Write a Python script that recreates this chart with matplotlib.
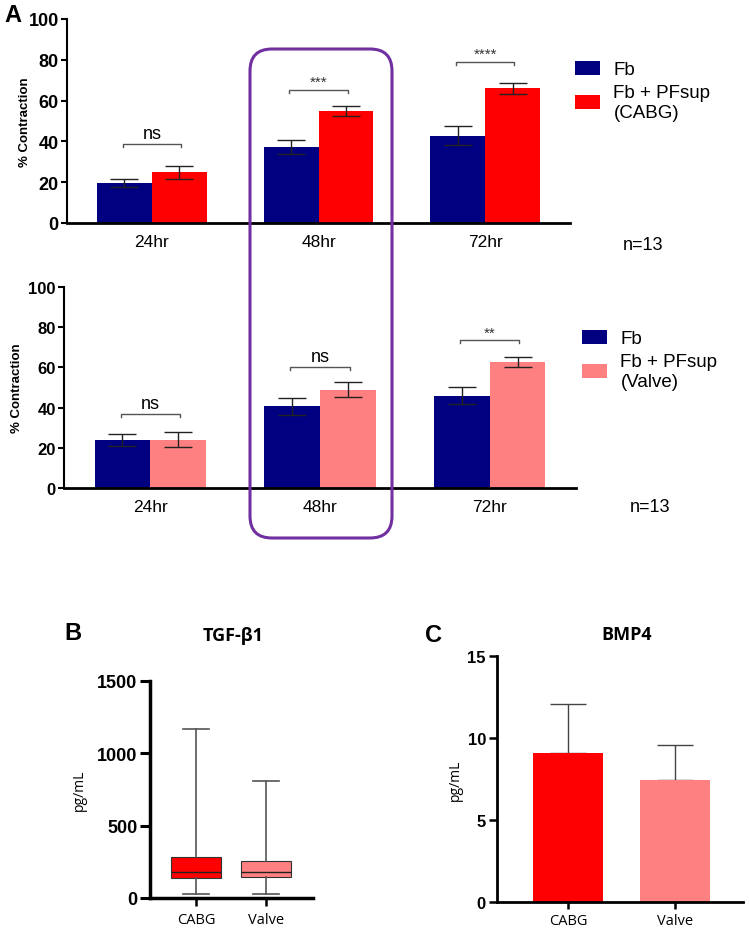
import numpy as np
import matplotlib
matplotlib.use('Agg')
import matplotlib.pyplot as plt
from matplotlib.patches import FancyBboxPatch
from matplotlib.transforms import IdentityTransform

plt.rcParams['font.family'] = ['Liberation Sans', 'DejaVu Sans']

# panel A data
timepoints = ['24hr', '48hr', '72hr']
fb_cabg = [19.6, 37.1, 42.8]
fb_cabg_err = [2.0, 3.4, 4.6]
cabg = [24.8, 54.8, 66.0]
cabg_err = [3.3, 2.5, 2.7]
sig_cabg = ['ns', '***', '****']
sig_cabg_y = [38.7, 65.4, 79.1]

fb_valve = [23.7, 40.7, 46.0]
fb_valve_err = [3.0, 4.3, 4.2]
valve = [24.0, 49.0, 62.7]
valve_err = [3.7, 3.8, 2.3]
sig_valve = ['ns', 'ns', '**']
sig_valve_y = [36.8, 60.2, 73.5]

# panel B data (box plot)
groups = ['CABG', 'Valve']
tgf_low = [30, 30]
tgf_q1 = [135, 142]
tgf_med = [180, 180]
tgf_q3 = [281, 253]
tgf_high = [1165, 809]

# panel C data
bmp4_mean = [9.09, 7.42]
bmp4_sd = [2.96, 2.18]

NAVY = '#000080'
RED = '#ff0000'
PINK = '#ff8080'
PURPLE = '#7030a0'
SANS2 = ['Open Sans', 'DejaVu Sans']

W, H = 750, 929
fig = plt.figure(figsize=(W / 100, H / 100), dpi=100)


def px_axes(l, t, r, b):
    return fig.add_axes([l / W, 1 - b / H, (r - l) / W, (b - t) / H])


def panel_a(ax, fb, fb_err, other, other_err, col, sig, sig_y, label2, ytick_fs, ylab_x):
    x = np.arange(len(timepoints))
    w = 0.33
    ax.bar(x - w / 2, fb, w, color=NAVY, label='Fb', zorder=2)
    ax.bar(x + w / 2, other, w, color=col, label=label2, zorder=2)
    ax.errorbar(x - w / 2, fb, yerr=fb_err, fmt='none', ecolor='#222222',
                elinewidth=1, capsize=10, capthick=1, zorder=3)
    ax.errorbar(x + w / 2, other, yerr=other_err, fmt='none', ecolor='#222222',
                elinewidth=1, capsize=10, capthick=1, zorder=3)
    for xi, s, yy in zip(x, sig, sig_y):
        ax.plot([xi - 0.175, xi - 0.175, xi + 0.175, xi + 0.175],
                [yy - 1.6, yy, yy, yy - 1.6], color='#555555', lw=1)
        if s == 'ns':
            ax.text(xi, yy + 1.0, s, ha='center', va='bottom', fontsize=13)
        else:
            ax.text(xi, yy + 0.2, s, ha='center', va='bottom', fontsize=11,
                    color='#333333')
    ax.set_ylim(0, 100)
    ax.set_xlim(-0.51, 2.51)
    ax.set_yticks(range(0, 101, 20))
    ax.set_xticks(x)
    ax.set_xticklabels(timepoints, fontsize=12.5)
    ax.tick_params(axis='x', length=0, pad=8)
    ax.tick_params(axis='y', length=4, width=1.5, labelsize=ytick_fs, pad=2)
    for t in ax.get_yticklabels():
        t.set_fontweight('bold')
    ax.set_ylabel('% Contraction', fontsize=9.5, fontweight='bold')
    ax.yaxis.set_label_coords(ylab_x, 0.5)
    for s in ['top', 'right']:
        ax.spines[s].set_visible(False)
    ax.spines['left'].set_linewidth(1.5)
    ax.spines['bottom'].set_linewidth(2)
    return ax


legend_kw = dict(bbox_transform=fig.transFigure, frameon=False, fontsize=13.5,
                 handlelength=1.35, handleheight=0.75, labelspacing=0.3,
                 handletextpad=0.7, borderaxespad=0, borderpad=0)

ax1 = px_axes(67, 20, 570, 224)
panel_a(ax1, fb_cabg, fb_cabg_err, cabg, cabg_err, RED, sig_cabg, sig_cabg_y,
        'Fb + PFsup\n(CABG)', 13, -0.072)
ax1.legend(loc='upper left', bbox_to_anchor=(575 / W, 1 - 62 / H), **legend_kw)

ax2 = px_axes(64, 288, 576, 489)
panel_a(ax2, fb_valve, fb_valve_err, valve, valve_err, PINK, sig_valve,
        sig_valve_y, 'Fb + PFsup\n(Valve)', 12, -0.08)
ax2.legend(loc='upper left', bbox_to_anchor=(582 / W, 1 - 331 / H), **legend_kw)

fig.text(643 / W, 1 - 245 / H, 'n=13', ha='center', va='center', fontsize=13)
fig.text(650 / W, 1 - 508 / H, 'n=13', ha='center', va='center', fontsize=13)

# purple highlight box around 48hr
box = FancyBboxPatch((250, H - 539), 142, 489, boxstyle='round,pad=0,rounding_size=22',
                     transform=IdentityTransform(), fill=False, ec=PURPLE, lw=2.2)
fig.add_artist(box)

fig.text(13 / W, 1 - 15 / H, 'A', fontsize=17, fontweight='bold', ha='center', va='center')

# panel B
axb = px_axes(150, 682, 313, 899)
stats = []
for i in range(len(groups)):
    stats.append(dict(whislo=tgf_low[i], q1=tgf_q1[i], med=tgf_med[i],
                      q3=tgf_q3[i], whishi=tgf_high[i], label=groups[i]))
bp = axb.bxp(stats, positions=[0, 1], widths=0.72, patch_artist=True,
             showfliers=False, capwidths=0.38)
for patch, c in zip(bp['boxes'], [RED, PINK]):
    patch.set_facecolor(c)
    patch.set_edgecolor('#333333')
    patch.set_linewidth(0.8)
for ln in bp['medians']:
    ln.set_color('#222222')
    ln.set_linewidth(1)
for ln in bp['whiskers'] + bp['caps']:
    ln.set_color('#555555')
    ln.set_linewidth(1.2)
axb.set_ylim(0, 1500)
axb.set_xlim(-0.657, 1.67)
axb.set_yticks([0, 500, 1000, 1500])
axb.set_xticks([0, 1])
axb.set_xticklabels(groups, fontsize=10.5, family=SANS2)
axb.tick_params(axis='y', length=7, width=2.2, labelsize=13, pad=2)
axb.tick_params(axis='x', length=6, width=1.8, pad=4)
for t in axb.get_yticklabels():
    t.set_fontweight('bold')
axb.set_ylabel('pg/mL', fontsize=10, family=SANS2)
axb.yaxis.set_label_coords(-0.39, 0.5)
for s in ['top', 'right']:
    axb.spines[s].set_visible(False)
axb.spines['left'].set_linewidth(2.5)
axb.spines['bottom'].set_linewidth(2.5)
fig.text(233 / W, 1 - 636 / H, 'TGF-β1', fontsize=13, fontweight='bold',
         ha='center', va='center', family=SANS2)
fig.text(73 / W, 1 - 634 / H, 'B', fontsize=17, fontweight='bold', ha='center', va='center')

# panel C
axc = px_axes(497, 657, 743, 903)
axc.bar([0, 1], bmp4_mean, 0.66, color=[RED, PINK], zorder=2)
axc.errorbar([0, 1], bmp4_mean, yerr=[[0, 0], bmp4_sd], fmt='none',
             ecolor='#444444', elinewidth=1, capsize=13, capthick=1, zorder=1)
axc.set_ylim(0, 15)
axc.set_xlim(-0.664, 1.636)
axc.set_yticks([0, 5, 10, 15])
axc.set_xticks([0, 1])
axc.set_xticklabels(groups, fontsize=10.5, family=SANS2)
axc.tick_params(axis='y', length=6, width=1.8, labelsize=12, pad=2)
axc.tick_params(axis='x', length=5, width=1.8, pad=3)
for t in axc.get_yticklabels():
    t.set_fontweight('bold')
axc.set_ylabel('pg/mL', fontsize=10, family=SANS2)
axc.yaxis.set_label_coords(-0.138, 0.5)
for s in ['top', 'right']:
    axc.spines[s].set_visible(False)
axc.spines['left'].set_linewidth(2)
axc.spines['bottom'].set_linewidth(2)
fig.text(627 / W, 1 - 635 / H, 'BMP4', fontsize=13, fontweight='bold',
         ha='center', va='center', family=SANS2)
fig.text(434 / W, 1 - 635 / H, 'C', fontsize=17, fontweight='bold', ha='center', va='center')

fig.savefig('out.png', dpi=100)
